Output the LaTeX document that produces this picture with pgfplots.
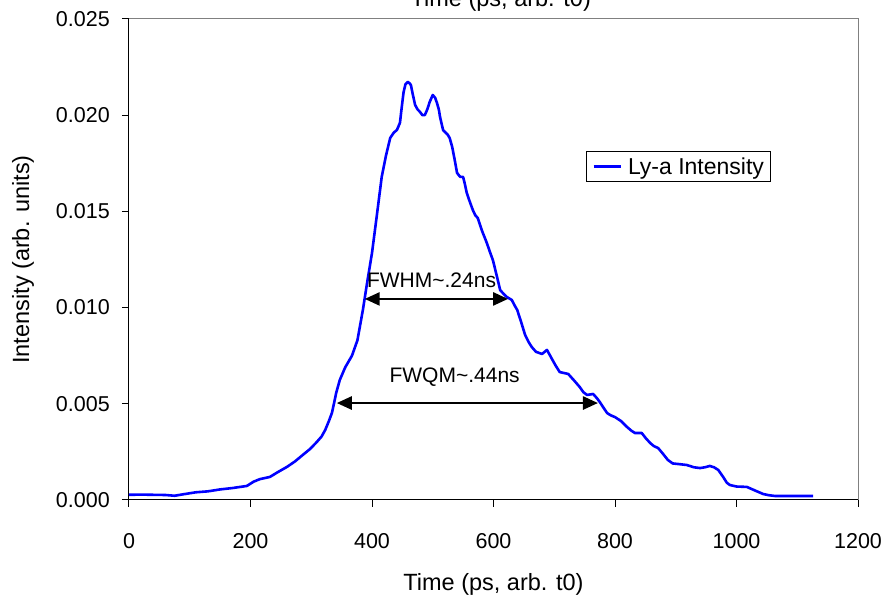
\documentclass[border=0pt]{standalone}
\usepackage{fontspec}
\setmainfont{Liberation Sans}
\usepackage{pgfplots}
\pgfplotsset{compat=1.18}
\usetikzlibrary{arrows.meta}
\definecolor{lyblue}{RGB}{0,0,255}
\begin{document}
\begin{tikzpicture}
\begin{axis}[
  scale only axis, width=729pt, height=481pt,
  xmin=0, xmax=1200, ymin=0, ymax=0.025,
  clip=false,
  axis lines=left,
  axis line style={-, line width=1pt, black},
  xtick={0,200,400,600,800,1000,1200},
  ytick={0,0.005,0.01,0.015,0.02,0.025},
  tick align=outside, major tick length=7pt,
  tick style={black, line width=1pt},
  scaled y ticks=false,
  /pgf/number format/assume math mode=true,
  /pgf/number format/1000 sep={},
  tick label style={font=\fontsize{21.5}{25}\selectfont, inner sep=0pt},
  xticklabel style={anchor=north, yshift=-26pt},
  yticklabel style={anchor=east, xshift=-12pt,
    /pgf/number format/.cd, fixed, fixed zerofill, precision=3},
  xlabel={Time (ps, arb. t0)},
  ylabel={Intensity (arb. units)},
  label style={font=\fontsize{23.5}{28}\selectfont, inner sep=0pt},
  xlabel style={at={(axis description cs:0.5,0)}, anchor=base, yshift=-91pt},
  ylabel style={at={(axis description cs:0,0.5)}, anchor=center, yshift=106pt},
  legend style={at={(0.6269,0.7256)}, anchor=north west, draw=black, line width=0.8pt,
    font=\fontsize{23}{27}\selectfont, inner xsep=6pt, inner ysep=6pt,
    nodes={inner sep=0pt}, column sep=6pt},
  legend cell align=left,
  legend image code/.code={\draw[#1] (0pt,0pt) -- (27pt,0pt);},
]
\coordinate (SW) at (rel axis cs:0,0);
\coordinate (NE) at (rel axis cs:1,1);
\draw[black!50, line width=1pt] (rel axis cs:0,1) -- (rel axis cs:1,1) -- (rel axis cs:1,0);
\addplot[lyblue, line width=2.6pt, line join=round] table {
x y
0 0.00027
20 0.00028
40 0.00027
60 0.00026
75 0.00022
90 0.00030
110 0.00040
130 0.00045
150 0.00055
170 0.00062
194 0.00073
205 0.00095
215 0.00108
232 0.0012
245 0.00145
260 0.00172
273 0.0020
286 0.00234
298 0.00265
309 0.00301
317 0.0033
323 0.00364
329 0.0041
334 0.00452
338 0.0051
341 0.00556
347 0.00624
356 0.0069
367 0.0075
376 0.0083
385 0.00988
392 0.0113
400 0.01284
408 0.0148
416 0.01679
423 0.0179
430 0.01882
436 0.0191
441 0.01923
446 0.0196
449 0.02043
452 0.0212
455 0.0216
459 0.02173
462 0.02165
464 0.02157
467 0.0211
471 0.02053
475 0.0203
479 0.02017
483 0.0200
487 0.02001
491 0.0203
495 0.02069
500 0.02105
504 0.0209
507 0.02063
510 0.0203
512 0.01991
515 0.0195
517 0.01923
521 0.0191
525 0.01897
528 0.0188
532 0.01835
536 0.0177
540 0.0170
545 0.0168
550 0.01679
553 0.0164
556 0.01596
561 0.0155
566 0.01507
570 0.0148
574 0.01466
581 0.0140
589 0.01336
594 0.0129
599 0.01247
605 0.0117
611 0.01091
617 0.0107
622 0.01055
630 0.0104
635 0.0101
639 0.00988
645 0.0093
652 0.00858
658 0.0082
663 0.00795
670 0.0077
680 0.00759
688 0.0078
695 0.0074
702 0.0070
709 0.00665
716 0.0066
723 0.00655
733 0.0062
742 0.00587
748 0.0056
754 0.00546
764 0.00551
770 0.0053
775 0.00509
781 0.0048
787 0.00452
793 0.0044
800 0.00431
810 0.0041
820 0.00379
827 0.0036
833 0.00348
844 0.00348
851 0.0032
858 0.00296
864 0.0028
871 0.0027
879 0.0024
887 0.00208
895 0.0019
904 0.00187
918 0.00182
930 0.0017
940 0.00166
948 0.0017
956 0.00177
963 0.0017
970 0.00156
978 0.0012
984 0.0009
989 0.00078
1000 0.0007
1017 0.00068
1030 0.0005
1044 0.00031
1053 0.00025
1063 0.00021
1080 0.00021
1100 0.00021
1126 0.00021
};
\addlegendentry{Ly-a Intensity}
\draw[{Triangle[length=15pt,width=13pt]}-{Triangle[length=15pt,width=13pt]}, line width=2.5pt]
  (axis cs:388,0.01045) -- (axis cs:624,0.01045);
\draw[{Triangle[length=15pt,width=13pt]}-{Triangle[length=15pt,width=13pt]}, line width=2.5pt]
  (axis cs:342,0.00504) -- (axis cs:772,0.00504);
\node[anchor=base, inner sep=0pt, font=\fontsize{21}{25}\selectfont] at (axis cs:498,0.01102) {FWHM\textasciitilde.24ns};
\node[anchor=base, inner sep=0pt, font=\fontsize{21}{25}\selectfont] at (axis cs:536,0.00613) {FWQM\textasciitilde.44ns};
\node[anchor=base, inner sep=0pt, font=\fontsize{23.5}{28}\selectfont] at ([yshift=12pt]axis cs:612,0.025) {Time (ps, arb. t0)};
\end{axis}
\pgfresetboundingbox
\useasboundingbox ([shift={(-129pt,-98pt)}]SW) rectangle ([shift={(33pt,19pt)}]NE);
\end{tikzpicture}
\end{document}
